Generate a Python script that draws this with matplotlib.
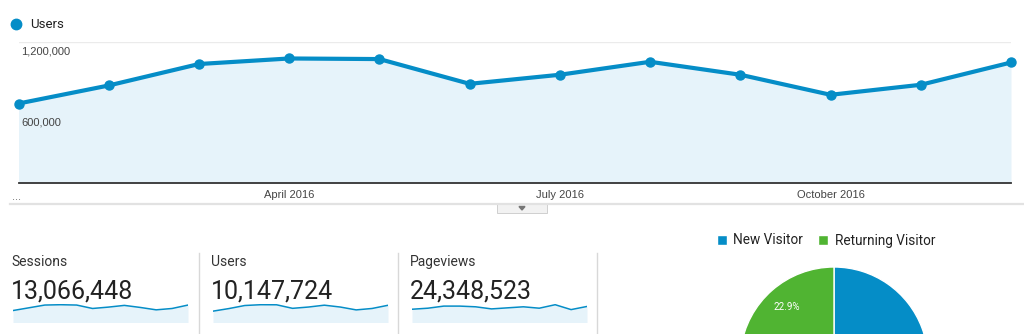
import matplotlib
matplotlib.use('Agg')
import matplotlib.pyplot as plt
from matplotlib.lines import Line2D
from matplotlib.patches import Rectangle, Polygon

## Data
months = ['Jan', 'Feb', 'Mar', 'Apr', 'May', 'Jun', 'Jul', 'Aug', 'Sep', 'Oct', 'Nov', 'Dec']
users = [674000, 827000, 1009000, 1056000, 1051000, 841000, 918000, 1028000, 918000, 748000, 833000, 1022000]
sessions = [845000, 1038000, 1232000, 1256000, 1232000, 990000, 1087000, 1208000, 1063000, 894000, 990000, 1232000]
pageviews = [1782000, 1923000, 2205000, 2205000, 2111000, 1829000, 1970000, 2111000, 1923000, 2392000, 1735000, 2158000]

yTicks = [600000, 1200000]
xTickIdx = [3, 6, 9]
xTickLabels = ['April 2016', 'July 2016', 'October 2016']

cardTitles = ['Sessions', 'Users', 'Pageviews']
cardTotals = ['13,066,448', '10,147,724', '24,348,523']

visitorTypes = ['New Visitor', 'Returning Visitor']
visitorShare = [77.1, 22.9]

## Colors
BLUE = '#058dc7'
GREEN = '#50b432'
FILL = '#e6f3fa'
GRID = '#ebebeb'

W, H = 1024, 334
plt.rcParams['font.family'] = ['Roboto', 'DejaVu Sans']

fig = plt.figure(figsize=(W / 100, H / 100), dpi=100)

# pixel box (left, top, right, bottom) -> axes
def pxAxes(x0, y0, x1, y1):
    return fig.add_axes([x0 / W, 1 - y1 / H, (x1 - x0) / W, (y1 - y0) / H])

def fx(x):
    return x / W

def fy(y):
    return 1 - y / H

# Main users line chart
ax = pxAxes(18.5, 41.5, 1011, 183)
xs = list(range(len(users)))
ax.fill_between(xs, users, 0, color=FILL, lw=0)
ax.plot(xs, users, color=BLUE, lw=3, marker='o', ms=6.5, clip_on=False, zorder=3)
ax.set_xlim(0, len(users) - 1)
ax.set_ylim(0, 1200000)
ax.set_yticks(yTicks)
ax.yaxis.grid(True, color=GRID, lw=1)
ax.tick_params(axis='y', length=0, labelleft=False)
for v in yTicks:
    ax.annotate(f'{v:,}', xy=(0, v), xycoords=('axes fraction', 'data'), xytext=(3, -5),
                textcoords='offset pixels', va='top', ha='left', fontsize=8,
                family='Liberation Sans', color='#444')
ax.set_xticks(xTickIdx)
ax.set_xticklabels(xTickLabels, family='Liberation Sans', fontsize=8, color='#444')
ax.tick_params(axis='x', length=0, pad=5)
for s in ['top', 'left', 'right']:
    ax.spines[s].set_visible(False)
ax.spines['bottom'].set_color('#333333')
ax.spines['bottom'].set_linewidth(1.3)
ax.set_facecolor('none')
ax.set_axisbelow(True)

fig.text(fx(12), fy(197), '...', family='Liberation Sans', fontsize=8, color='#666', va='center')

# Series legend
fig.add_artist(Line2D([fx(15.5)], [fy(24)], marker='o', ms=7.5, color=BLUE, transform=fig.transFigure))
fig.text(fx(30), fy(24), 'Users', fontsize=9.5, color='#222', va='center')

# Separator and dropdown tab
fig.add_artist(Line2D([fx(10), fx(1024)], [fy(204), fy(204)], color='#e2e2e2', lw=1.6, transform=fig.transFigure))
fig.add_artist(Rectangle((fx(497), fy(213)), fx(50), 9 / H, facecolor='#f2f2f2', edgecolor='#cfcfcf',
                         lw=0.7, transform=fig.transFigure))
fig.add_artist(Polygon([[fx(519), fy(206.5)], [fx(525), fy(206.5)], [fx(522), fy(210)]], closed=True,
                       color='#777', transform=fig.transFigure))

# Scorecards with sparklines
cardX = [11, 211, 410]
for i, (title, total, series) in enumerate(zip(cardTitles, cardTotals, [sessions, users, pageviews])):
    x0 = cardX[i]
    fig.text(fx(x0), fy(266), title, fontsize=10, color='#333', va='baseline')
    fig.text(fx(x0), fy(298), total, fontsize=18, color='#222', va='baseline')
    sp = pxAxes(x0 + 2, 304, x0 + 177, 322.5)
    sx = list(range(len(series)))
    sp.fill_between(sx, series, 0, color=FILL, lw=0)
    sp.plot(sx, series, color=BLUE, lw=1.1)
    sp.set_xlim(0, len(series) - 1)
    sp.set_ylim(0, max(series) * 1.04)
    sp.axis('off')

for xd in [198.5, 397.5, 597]:
    fig.add_artist(Line2D([fx(xd), fx(xd)], [fy(253), fy(334)], color='#d8d8d8', lw=1, transform=fig.transFigure))

# Visitor type pie
r = 94
pie = pxAxes(834 - r, 361 - r, 834 + r, 361 + r)
wedges, _, autotexts = pie.pie(visitorShare, colors=[BLUE, GREEN], startangle=90, counterclock=False,
                               autopct=lambda p: f'{p:.1f}%' if p < 50 else '', pctdistance=0.77,
                               wedgeprops=dict(edgecolor='white', linewidth=1),
                               textprops=dict(color='white', fontsize=7))
pie.set_xlim(-1, 1)
pie.set_ylim(-1, 1)
pie.set_aspect('equal')
fig.legend(wedges, visitorTypes, loc='center', bbox_to_anchor=(fx(826), fy(240.5)), ncol=2, frameon=False,
           fontsize=9.8, handlelength=0.75, handleheight=0.75, handletextpad=0.45, columnspacing=1.1,
           labelcolor='#222', borderpad=0)

plt.savefig('out.png', dpi=100)
